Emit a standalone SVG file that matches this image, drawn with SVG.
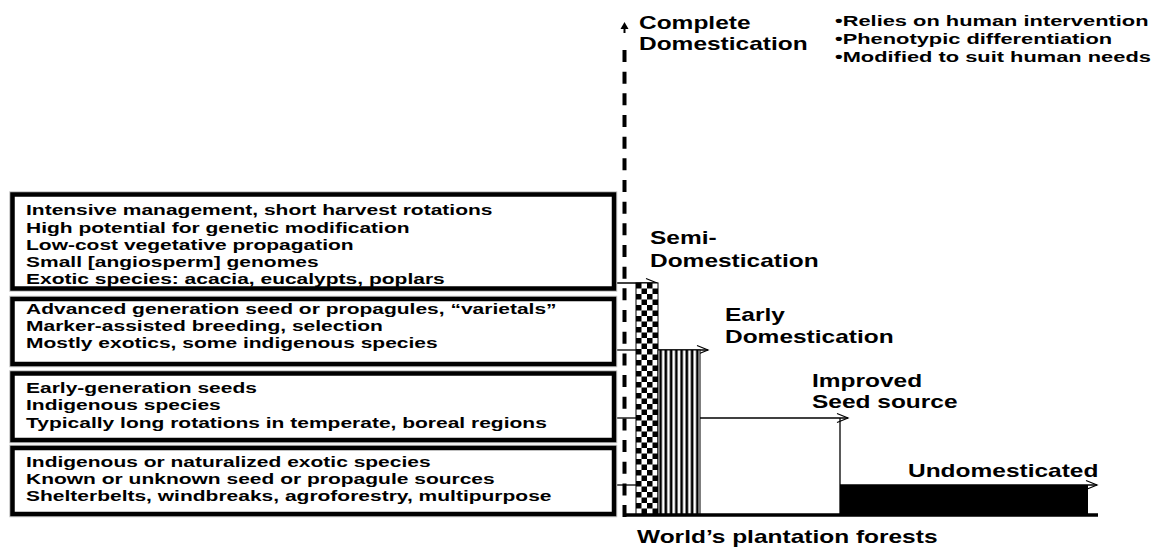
<svg xmlns="http://www.w3.org/2000/svg" width="1156" height="547" viewBox="0 0 1156 547">
<style>
.t{font-family:"Liberation Sans",Arial,sans-serif;font-weight:bold;font-size:15px;fill:#000}
.h{font-family:"Liberation Sans",Arial,sans-serif;font-weight:bold;font-size:17.5px;fill:#000}
.bx{fill:#fff;stroke:#000;stroke-width:4.5}
.bxg{fill:none;stroke:#c4c4c4;stroke-width:6.5}
.ln{fill:none;stroke:#000;stroke-width:1.3}
</style>
<defs>
<pattern id="checker" x="636" y="283" width="11" height="11" patternUnits="userSpaceOnUse">
<rect width="11" height="11" fill="#fff"/>
<rect width="5.5" height="5.5" fill="#000"/>
<rect x="5.5" y="5.5" width="5.5" height="5.5" fill="#000"/>
</pattern>
<pattern id="stripes" x="658" y="0" width="5.25" height="10" patternUnits="userSpaceOnUse">
<rect width="5.25" height="10" fill="#fff"/>
<rect x="1.3" width="2.6" height="10" fill="#000"/>
</pattern>
<marker id="open" markerWidth="14" markerHeight="12" refX="12" refY="6" orient="auto" markerUnits="userSpaceOnUse">
<path d="M1,1.5 L12,6 L1,10.5" fill="none" stroke="#000" stroke-width="1.2"/>
</marker>
</defs>
<rect width="1156" height="547" fill="#fff"/>

<g id="connectors">
<line class="ln" x1="615" y1="283" x2="657" y2="283" marker-end="url(#open)"/>
<line class="ln" x1="615" y1="350" x2="636" y2="350"/>
<line class="ln" x1="658" y1="350" x2="708" y2="350" marker-end="url(#open)"/>
<line class="ln" x1="615" y1="418" x2="636" y2="418"/>
<line class="ln" x1="700" y1="418" x2="848" y2="418" marker-end="url(#open)"/>
<line class="ln" x1="615" y1="485" x2="636" y2="485"/>
<line class="ln" x1="840" y1="485" x2="1097" y2="485" marker-end="url(#open)"/>
</g>

<g id="bars">
<rect x="636" y="283" width="22" height="232" fill="url(#checker)" stroke="#000" stroke-width="1"/>
<rect x="658" y="350" width="42" height="165" fill="url(#stripes)" stroke="#000" stroke-width="1"/>
<line class="ln" x1="840" y1="418" x2="840" y2="515"/>
<rect x="840" y="485" width="248" height="30" fill="#000"/>
<line x1="625" y1="515" x2="1098" y2="515" stroke="#000" stroke-width="3.5"/>
</g>

<g id="domestication-axis">
<line x1="624.5" y1="50" x2="624.5" y2="518" stroke="#000" stroke-width="4" stroke-dasharray="12 9.67"/>
<line x1="624.5" y1="27" x2="624.5" y2="33" stroke="#000" stroke-width="2"/>
<path d="M624.5,22 L620.5,29 L628.5,29 Z" fill="#000"/>
</g>

<g id="box1">
<rect class="bxg" x="12.5" y="194.5" width="601.5" height="94"/>
<rect class="bx" x="12.5" y="194.5" width="601.5" height="94"/>
<g transform="translate(26 0) scale(1.4 1)">
<text class="t"><tspan x="0" y="215.5">Intensive management, short harvest rotations</tspan><tspan x="0" y="233">High potential for genetic modification</tspan><tspan x="0" y="250.5">Low-cost vegetative propagation</tspan><tspan x="0" y="267.5">Small [angiosperm] genomes</tspan><tspan x="0" y="284.5">Exotic species: acacia, eucalypts, poplars</tspan></text>
</g>
</g>

<g id="box2">
<rect class="bxg" x="12.5" y="299" width="601.5" height="65"/>
<rect class="bx" x="12.5" y="299" width="601.5" height="65"/>
<g transform="translate(26 0) scale(1.4 1)">
<text class="t"><tspan x="0" y="314">Advanced generation seed or propagules, “varietals”</tspan><tspan x="0" y="331">Marker-assisted breeding, selection</tspan><tspan x="0" y="348">Mostly exotics, some indigenous species</tspan></text>
</g>
</g>

<g id="box3">
<rect class="bxg" x="12.5" y="373.5" width="601.5" height="66.5"/>
<rect class="bx" x="12.5" y="373.5" width="601.5" height="66.5"/>
<g transform="translate(26 0) scale(1.4 1)">
<text class="t"><tspan x="0" y="393">Early-generation seeds</tspan><tspan x="0" y="410.5">Indigenous species</tspan><tspan x="0" y="428">Typically long rotations in temperate, boreal regions</tspan></text>
</g>
</g>

<g id="box4">
<rect class="bxg" x="12.5" y="448" width="601.5" height="66"/>
<rect class="bx" x="12.5" y="448" width="601.5" height="66"/>
<g transform="translate(26 0) scale(1.4 1)">
<text class="t"><tspan x="0" y="467">Indigenous or naturalized exotic species</tspan><tspan x="0" y="484">Known or unknown seed or propagule sources</tspan><tspan x="0" y="501">Shelterbelts, windbreaks, agroforestry, multipurpose</tspan></text>
</g>
</g>

<g id="complete-domestication" transform="translate(639 0) scale(1.4 1)">
<text class="h"><tspan x="0" y="29">Complete</tspan><tspan x="0" y="50">Domestication</tspan></text>
</g>

<g id="traits" transform="translate(835 0) scale(1.41 1)">
<text class="t" style="font-size:15.5px"><tspan x="0" y="26">•Relies on human intervention</tspan><tspan x="0" y="44">•Phenotypic differentiation</tspan><tspan x="0" y="62">•Modified to suit human needs</tspan></text>
</g>

<g id="semi-domestication" transform="translate(650 0) scale(1.4 1)">
<text class="h"><tspan x="0" y="244">Semi-</tspan><tspan x="0" y="267">Domestication</tspan></text>
</g>

<g id="early-domestication" transform="translate(725 0) scale(1.4 1)">
<text class="h"><tspan x="0" y="321">Early</tspan><tspan x="0" y="343">Domestication</tspan></text>
</g>

<g id="improved-seed-source" transform="translate(812 0) scale(1.4 1)">
<text class="h"><tspan x="0" y="387">Improved</tspan><tspan x="0" y="408">Seed source</tspan></text>
</g>

<g id="undomesticated" transform="translate(908 0) scale(1.4 1)">
<text class="h"><tspan x="0" y="477">Undomesticated</tspan></text>
</g>

<g id="axis-label" transform="translate(637 0) scale(1.4 1)">
<text class="h"><tspan x="0" y="543">World’s plantation forests</tspan></text>
</g>
</svg>
